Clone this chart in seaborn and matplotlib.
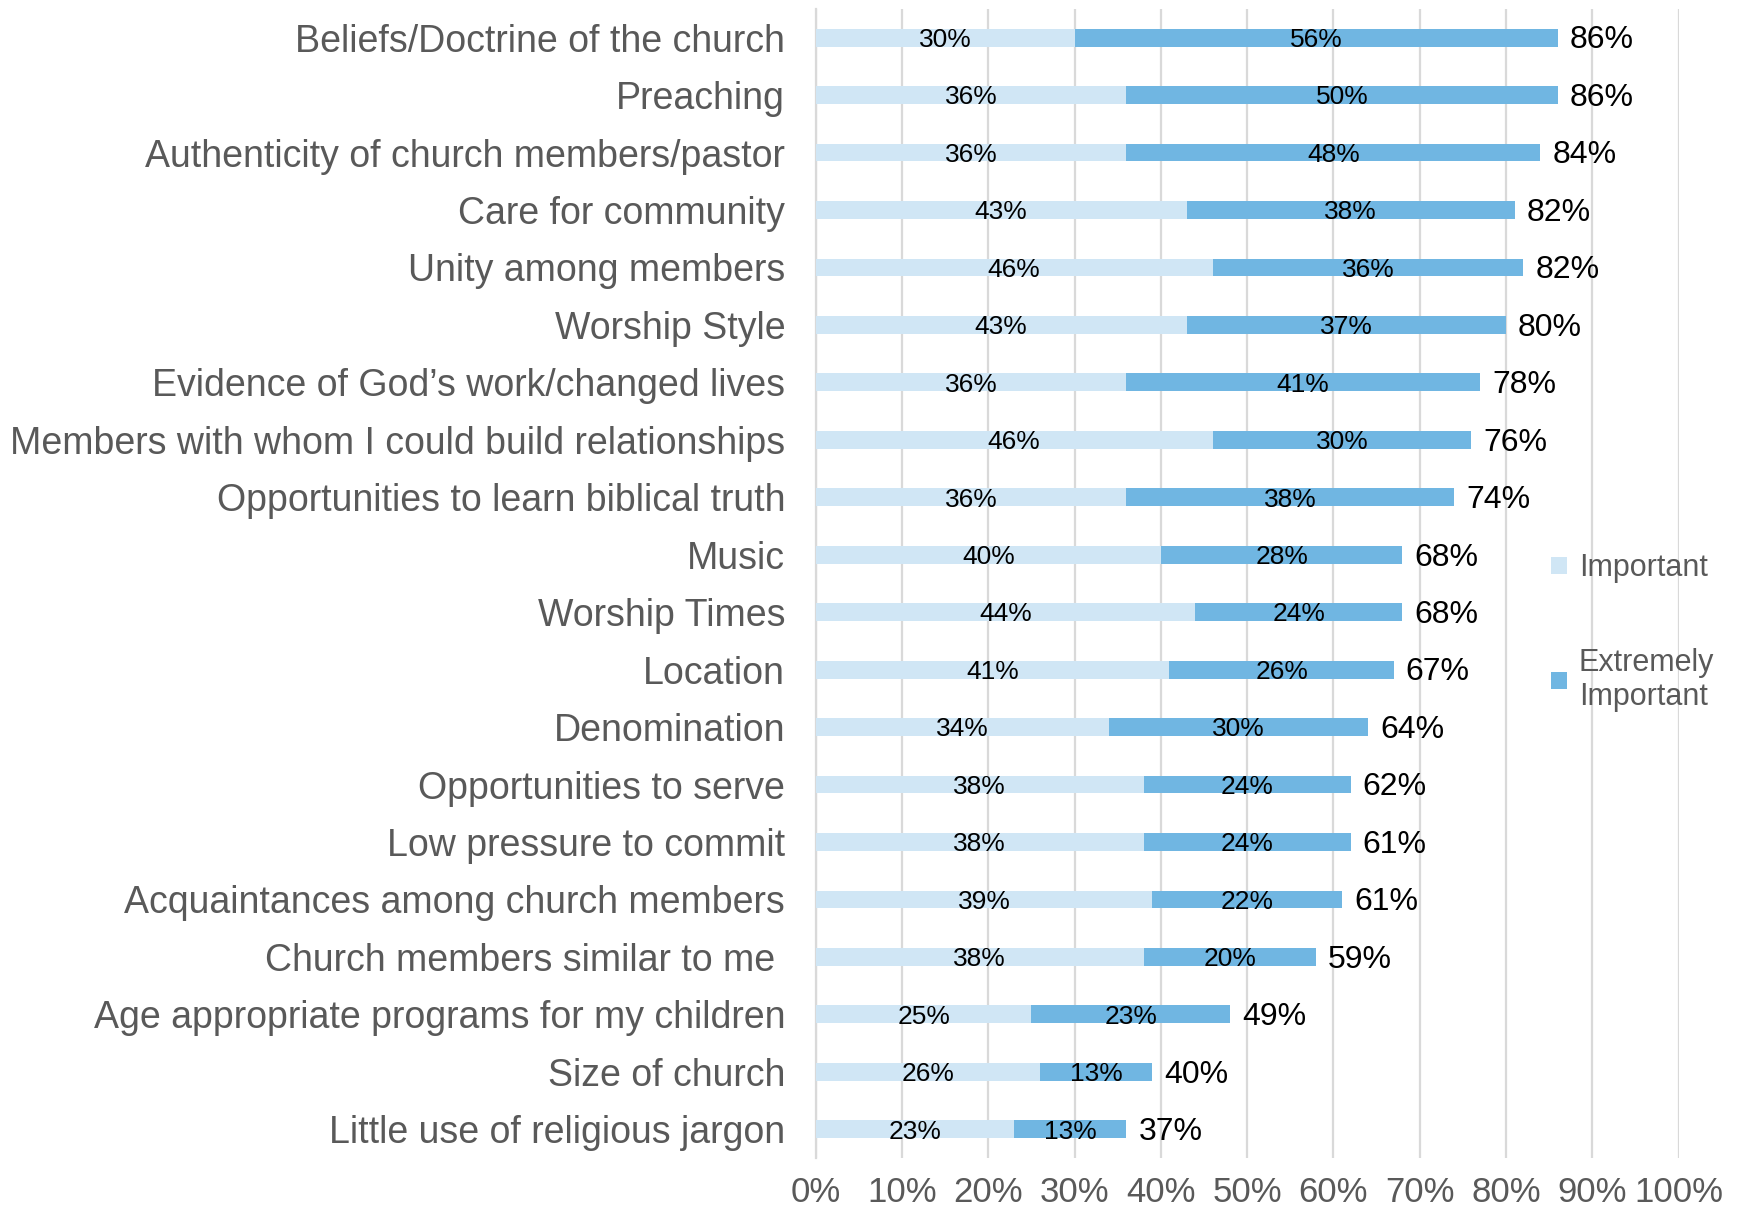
import matplotlib
matplotlib.use("Agg")
import matplotlib.pyplot as plt
from matplotlib.patches import Patch
import seaborn as sns
import pandas as pd

categories = [
    "Beliefs/Doctrine of the church",
    "Preaching",
    "Authenticity of church members/pastor",
    "Care for community",
    "Unity among members",
    "Worship Style",
    "Evidence of God\u2019s work/changed lives",
    "Members with whom I could build relationships",
    "Opportunities to learn biblical truth",
    "Music",
    "Worship Times",
    "Location",
    "Denomination",
    "Opportunities to serve",
    "Low pressure to commit",
    "Acquaintances among church members",
    "Church members similar to me ",
    "Age appropriate programs for my children",
    "Size of church",
    "Little use of religious jargon",
]
important = [30, 36, 36, 43, 46, 43, 36, 46, 36, 40, 44, 41, 34, 38, 38, 39, 38, 25, 26, 23]
extremely = [56, 50, 48, 38, 36, 37, 41, 30, 38, 28, 24, 26, 30, 24, 24, 22, 20, 23, 13, 13]
totals = [86, 86, 84, 82, 82, 80, 78, 76, 74, 68, 68, 67, 64, 62, 61, 61, 59, 49, 40, 37]
x_ticks = [0, 10, 20, 30, 40, 50, 60, 70, 80, 90, 100]

LIGHT = "#D0E6F5"
DARK = "#70B6E2"
GRAY = "#595959"

df = pd.DataFrame({"item": categories, "imp": important, "ext": extremely})
df["stack"] = df["imp"] + df["ext"]

sns.set_theme(style="white")
plt.rcParams["font.family"] = ["Liberation Sans", "DejaVu Sans"]

fig = plt.figure(figsize=(17.43, 12.16), dpi=100)
ax = fig.add_axes([0.468, 0.0477, 0.495, 0.945])

# stacked bars: full stack in dark blue, the "Important" part laid over it
sns.barplot(data=df, y="item", x="stack", color=DARK, width=0.31,
            orient="h", ax=ax, saturation=1, linewidth=0, zorder=3)
sns.barplot(data=df, y="item", x="imp", color=LIGHT, width=0.31,
            orient="h", ax=ax, saturation=1, linewidth=0, zorder=3)

for i, (a, b, t) in enumerate(zip(important, extremely, totals)):
    ax.text(a / 2, i + 0.04, f"{a}%", ha="center", va="center",
            fontsize=19, color="black", zorder=4)
    ax.text(a + b / 2, i + 0.04, f"{b}%", ha="center", va="center",
            fontsize=19, color="black", zorder=4)
    ax.text(a + b + 1.4, i + 0.05, f"{t}%", ha="left", va="center",
            fontsize=23, color="black", zorder=4)

ax.set_xlim(0, 100)
ax.set_ylim(len(categories) - 0.5, -0.5)
ax.set_xticks(x_ticks)
ax.set_xticklabels([f"{v}%" for v in x_ticks])
ax.xaxis.grid(True, color="#D9D9D9", linewidth=1.6, zorder=0)
ax.yaxis.grid(False)
ax.set_xlabel("")
ax.set_ylabel("")
for s in ["top", "right", "bottom"]:
    ax.spines[s].set_visible(False)
ax.spines["left"].set_color("#D9D9D9")
ax.spines["left"].set_linewidth(1.6)
ax.tick_params(axis="y", length=0, pad=22, labelsize=27, labelcolor=GRAY)
ax.tick_params(axis="x", length=0, pad=13, labelsize=25, labelcolor=GRAY)

handles = [Patch(facecolor=LIGHT, edgecolor="none", label="Important"),
           Patch(facecolor=DARK, edgecolor="none", label="Extremely\nImportant")]
fig.legend(handles=handles, loc="upper left", bbox_to_anchor=(0.883, 0.555),
           frameon=False, fontsize=22, labelcolor=GRAY,
           handlelength=0.5, handleheight=0.5, handletextpad=0.4,
           labelspacing=2.1, borderaxespad=0)

fig.savefig("out.png", dpi=100)
